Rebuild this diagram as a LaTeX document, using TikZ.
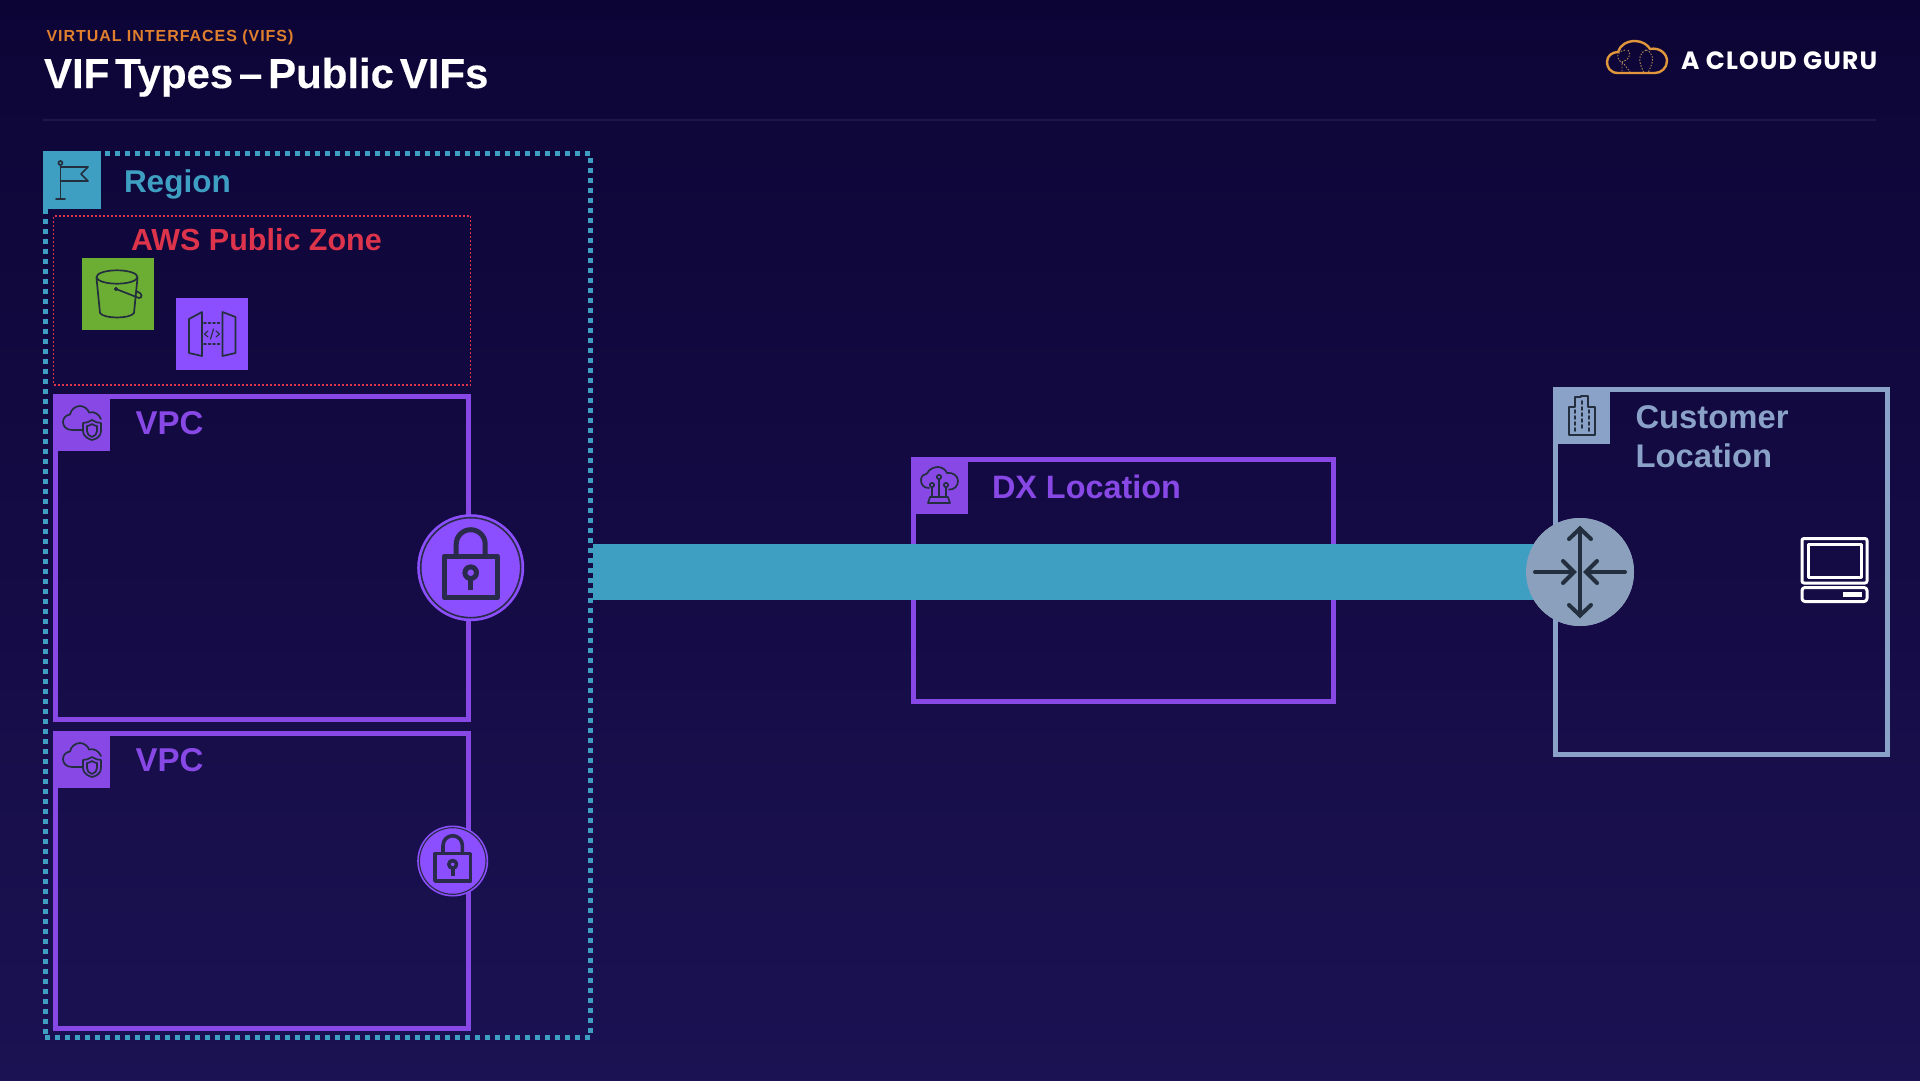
\documentclass[tikz,border=0pt]{standalone}
\usepackage{fontspec}
\setmainfont{Liberation Sans}
\newfontfamily\logofont{Poppins}
\newfontfamily\titlefont{Liberation Sans Bold}[LetterSpace=-0.1,WordSpace=0.5,FakeBold=0.3]
\usetikzlibrary{arrows.meta}
\definecolor{bgtop}{HTML}{0D0436}
\definecolor{bgbot}{HTML}{1B1253}
\definecolor{teal}{HTML}{3F9FC3}
\definecolor{purp}{HTML}{8C4FFF}
\definecolor{purpf}{HTML}{8848E6}
\definecolor{steel}{HTML}{8BA2C8}
\definecolor{routerc}{HTML}{8AA0BC}
\definecolor{pinkred}{HTML}{DD344C}
\definecolor{greenb}{HTML}{6CAE34}
\definecolor{ink}{HTML}{232F3E}
\definecolor{locki}{HTML}{2A2A4C}
\definecolor{orangeh}{HTML}{E07F2E}
\definecolor{logoor}{HTML}{E0963A}
\tikzset{
  lbl/.style={anchor=base west,inner sep=0pt,outer sep=0pt,font=\bfseries},
  frame/.style={draw=#1,line width=5pt,anchor=north west,inner sep=0pt,outer sep=0pt,fill=none},
  iconbox/.style={fill=#1,anchor=north west,inner sep=0pt,outer sep=0pt,minimum size=57pt},
  iconline/.style={draw=ink,line width=1.7pt,line join=round,line cap=round},
  lockline/.style={draw=locki,line join=round},
  disc/.style={circle,fill=purp,draw=none,inner sep=0pt,outer sep=0pt}
}
% lock glyph, centre at #1,#2 ; scale #3 ; stroke #4
\newcommand{\lockglyph}[4]{%
\begin{scope}[shift={(#1,#2)},scale=#3]
 \draw[lockline,line width=#4*0.32] (0,0) circle (50);
 \draw[lockline,line width=#4] (-26.5,-11.5) rectangle (26.5,30);
 \draw[lockline,line width=#4] (-14.5,-12) -- (-14.5,-23.5) arc[start angle=180,end angle=360,radius=14.5] -- (14.5,-12);
 \draw[lockline,line width=#4] (0,5) circle (5.8);
 \draw[lockline,line width=#4] (0,10) -- (0,22);
\end{scope}}
% VPC cloud + shield icon, NW corner at #1,#2
\newcommand{\vpcicon}[2]{%
\begin{scope}[shift={(#1,#2)},iconline]
 \draw (30,36) -- (19,36) .. controls (13,36) and (10,32) .. (10,28) .. controls (10,24) and (13,21) .. (17,20.5)
   .. controls (18,15) and (23,12) .. (27,12) .. controls (31,12) and (35,15) .. (36,18.5)
   .. controls (41,17) and (46,20) .. (48,25);
 \draw (39,26) .. controls (42,28) and (45,29) .. (48,29) -- (48,37) .. controls (48,42) and (44,45) .. (39,46) .. controls (35,45) and (30,42) .. (30,37) -- (30,29) .. controls (33,29) and (36,28) .. (39,26) -- cycle;
 \draw (34,32) -- (34,37) .. controls (34,40) and (36,42) .. (39,43) .. controls (42,42) and (44,40) .. (44,37) -- (44,32) .. controls (42,32) and (41,31) .. (39,30) .. controls (37,31) and (36,32) .. (34,32) -- cycle;
\end{scope}}
\begin{document}
\begin{tikzpicture}[x=1pt,y=-1pt]
\useasboundingbox (0,0) rectangle (1920,1080);
\shade[top color=bgtop,bottom color=bgbot,shading angle=0] (0,0) rectangle (1920,1080);

% header
\node[lbl,text=orangeh,font=\fontsize{16}{18}\selectfont\bfseries\addfontfeature{LetterSpace=6}] (eyebrow) at (46.5,41) {VIRTUAL INTERFACES (VIFS)};
\node[lbl,text=white,font=\titlefont\fontsize{42}{46}\selectfont] (title) at (44,88) {VIF Types – Public VIFs};
\coordinate (ruleL) at (43,120);
\coordinate (ruleR) at (1876,120);
\draw[color=white,opacity=0.07,line width=2pt] (ruleL) -- (ruleR);

% logo
\draw[logoor,line width=2.4pt,line join=round]
  (1618,73) .. controls (1610,73) and (1607,67) .. (1607,62) .. controls (1607,56) and (1612,52) .. (1618,52)
  .. controls (1620,45) and (1627,41) .. (1635,41) .. controls (1642,41) and (1648,45) .. (1650,49)
  .. controls (1660,47) and (1667,54) .. (1667,61) .. controls (1667,68) and (1661,73) .. (1655,73) -- cycle;
\draw[logoor!55!gray,line width=.9pt,dash pattern=on 1.5pt off 1.5pt]
  (1646,50) .. controls (1640,52) and (1638,60) .. (1641,66) -- (1644,73)
  (1646,50) .. controls (1653,52) and (1654,60) .. (1651,66) -- (1648,73)
  (1625,50) .. controls (1615,52) and (1616,60) .. (1624,64) -- (1630,72)
  (1628,50) .. controls (1632,56) and (1628,60) .. (1622,62) -- (1622,72);
\node[lbl,text=white,font=\logofont\fontsize{25}{26}\selectfont\bfseries\addfontfeature{LetterSpace=4.5}] (logotext) at (1681,69) {A CLOUD GURU};

% region
\node[draw=teal,line width=5pt,dash pattern=on 5pt off 5pt,anchor=north west,inner sep=0pt,outer sep=0pt,minimum width=545.3pt,minimum height=884pt] (region) at (45.3,153.3) {};
\node[iconbox=teal,minimum size=58pt] (regionicon) at (43,151) {};
\begin{scope}[iconline]
 \draw (60.4,165) -- (60.4,199) (56,199) -- (65,199);
 \draw (60.4,163) circle (2);
 \draw (60.4,167) -- (88,167) -- (81,174) -- (88,181) -- (60.4,181);
\end{scope}
\node[lbl,text=teal,font=\fontsize{31.5}{34}\selectfont\bfseries] (regionlabel) at (124,192) {Region};

% public zone
\node[draw=pinkred,line width=1.5pt,dash pattern=on 2pt off 2pt,anchor=north west,inner sep=0pt,outer sep=0pt,minimum width=417pt,minimum height=169pt] (zone) at (53.5,216) {};
\node[lbl,text=pinkred,font=\fontsize{30.5}{33}\selectfont\bfseries] (zonelabel) at (131,250) {AWS Public Zone};
\node[fill=greenb,anchor=north west,inner sep=0pt,outer sep=0pt,minimum width=72pt,minimum height=72pt] (s3) at (82,258) {};
\begin{scope}[iconline]
 \draw (117,277) ellipse (20.5 and 6.7);
 \draw (96.5,278) -- (100,313) .. controls (104,319) and (130,319) .. (134,313) -- (137.5,278);
 \draw (116,289) -- (139,298) .. controls (143,298) and (142,293) .. (138,292) -- (136,291);
 \filldraw[fill=ink] (116,289) circle (1.2);
\end{scope}
\node[fill=purp,anchor=north west,inner sep=0pt,outer sep=0pt,minimum width=72pt,minimum height=72pt] (api) at (176,298) {};
\begin{scope}[iconline]
 \draw (189,319) -- (202,312) -- (202,356) -- (189,353) -- cycle;
 \draw (222.5,312) -- (235.5,317) -- (235.5,353) -- (222.5,356) -- cycle;
 \draw[dash pattern=on 2pt off 2.5pt] (204,323) -- (221,323) (204,344) -- (221,344);
 \draw[line width=1.1pt] (208,331) -- (204.5,334) -- (208,337) (216,331) -- (219.5,334) -- (216,337) (213.5,329) -- (210.5,339);
\end{scope}

% VPC 1
\node[frame=purpf,minimum width=413pt,minimum height=323pt] (vpcA) at (55.5,396.5) {};
\node[iconbox=purpf] (vpcAicon) at (53,394) {};
\vpcicon{53}{394}
\node[lbl,text=purpf,font=\fontsize{33}{34}\selectfont\bfseries] (vpcAlabel) at (135.5,434) {VPC};
% VPC 2
\node[frame=purpf,minimum width=413pt,minimum height=295pt] (vpcB) at (55.5,733.5) {};
\node[iconbox=purpf] (vpcBicon) at (53,731) {};
\vpcicon{53}{731}
\node[lbl,text=purpf,font=\fontsize{33}{34}\selectfont\bfseries] (vpcBlabel) at (135.5,771) {VPC};

% DX location
\node[frame=purpf,minimum width=420pt,minimum height=241.5pt] (dx) at (913.5,459.5) {};
\node[iconbox=purpf] (dxicon) at (911,457) {};
\begin{scope}[iconline]
 \draw (929,488) .. controls (923,488) and (921,484) .. (921,480) .. controls (921,476) and (924,474) .. (927,473.5)
   .. controls (929,469) and (934,467) .. (938,467) .. controls (942,467) and (946,470) .. (947,473)
   .. controls (953,472) and (958,476) .. (958,481) .. controls (958,486) and (954,490) .. (949,489.5);
 \draw (932,485) circle (2.2) (939,477) circle (2.2) (946,485) circle (2.2);
 \draw (932,487.5) -- (932,497) (939,479.5) -- (939,497) (946,487.5) -- (946,497);
 \draw (930,497) -- (948,497) -- (950,503) (930,497) -- (928,503) (928,503) -- (950,503);
\end{scope}
\node[lbl,text=purpf,font=\fontsize{32.4}{34}\selectfont\bfseries] (dxlabel) at (992,498) {DX Location};

% customer location
\node[frame=steel,minimum width=332pt,minimum height=365pt] (cust) at (1555.5,389.5) {};
\node[iconbox=steel] (custicon) at (1553,387) {};
\begin{scope}[iconline]
 \draw (1569,435) -- (1569,407) -- (1575,407) -- (1575,397) -- (1581,397) -- (1581,396) -- (1588,396) -- (1588,407) -- (1595,407) -- (1595,435) -- cycle;
 \draw[dash pattern=on 3pt off 3pt] (1575,410) -- (1575,431) (1582,401) -- (1582,431) (1589,410) -- (1589,431);
\end{scope}
\node[lbl,text=steel,font=\fontsize{32.8}{34}\selectfont\bfseries] (custlabelA) at (1635.5,428) {Customer};
\node[lbl,text=steel,font=\fontsize{32.8}{34}\selectfont\bfseries] (custlabelB) at (1635.5,467) {Location};

% laptop
\begin{scope}[draw=white,line width=3pt,line join=round]
 \draw[rounded corners=2pt] (1802,538.5) rectangle (1867,583);
 \draw (1808.5,544.5) rectangle (1861.5,577.5);
 \draw[rounded corners=3pt] (1802,587.5) rectangle (1867,601.5);
 \fill[white] (1843,592) rectangle (1862,597);
\end{scope}

% connection bar
\coordinate (barstart) at (592.7,572);
\node[circle,fill=routerc,inner sep=0pt,outer sep=0pt,minimum size=108pt] (router) at (1580,572) {};
\draw[teal,line width=56pt] (barstart) -- (router.center);
\node[circle,fill=routerc,inner sep=0pt,outer sep=0pt,minimum size=108pt] (routerdisc) at (1580,572) {};
\begin{scope}[draw=ink,line width=4pt,line cap=round,line join=miter]
 \draw (1580,529) -- (1580,615);
 \draw (1569,539) -- (1580,528.5) -- (1591,539);
 \draw (1569,605) -- (1580,615.5) -- (1591,605);
 \draw (1535,572) -- (1573,572);
 \draw (1563,561) -- (1574,572) -- (1563,583);
 \draw (1625,572) -- (1587,572);
 \draw (1597,561) -- (1586,572) -- (1597,583);
\end{scope}

% locks
\node[disc,minimum size=107pt] (lockA) at (470.7,567.7) {};
\lockglyph{470.7}{567.7}{1}{5pt}
\node[disc,minimum size=71pt] (lockB) at (452.7,861) {};
\lockglyph{452.7}{861}{0.666}{3.6pt}
\end{tikzpicture}
\end{document}
